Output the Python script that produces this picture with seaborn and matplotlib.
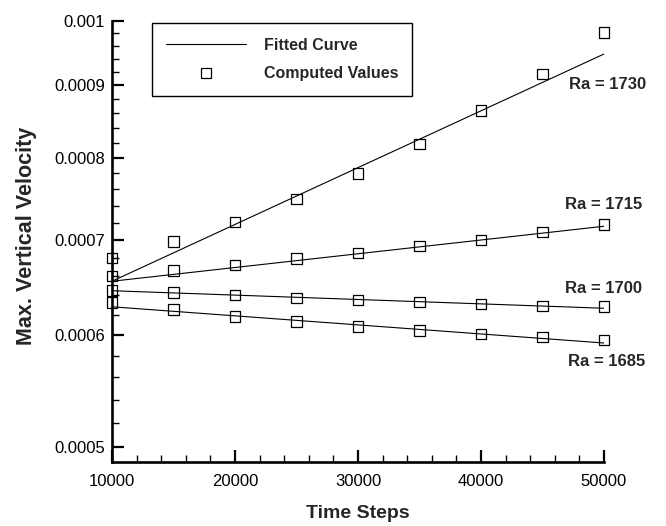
import numpy as np
import pandas as pd
import matplotlib
matplotlib.use("Agg")
import matplotlib.pyplot as plt
from matplotlib.lines import Line2D
from matplotlib.ticker import FixedLocator, FixedFormatter, NullFormatter
import seaborn as sns

# ---------------- data ----------------
time_steps = [10000, 15000, 20000, 25000, 30000, 35000, 40000, 45000, 50000]
ra_values = [1730, 1715, 1700, 1685]

computed_1730 = [0.000680, 0.000698, 0.000721, 0.000748, 0.000780, 0.000818, 0.000864, 0.000917, 0.000981]
computed_1715 = [0.000660, 0.000666, 0.000672, 0.000679, 0.0006855, 0.000693, 0.000700, 0.000709, 0.000718]
computed_1700 = [0.000645, 0.000643, 0.000640, 0.000637, 0.000635, 0.000633, 0.000631, 0.000629, 0.000628]
computed_1685 = [0.0006325, 0.000625, 0.000618, 0.000613, 0.000608, 0.000604, 0.000601, 0.000598, 0.000595]

fit_steps = [10000, 50000]
fit_1730 = [0.0006546, 0.000947]
fit_1715 = [0.0006546, 0.0007158]
fit_1700 = [0.0006446, 0.0006265]
fit_1685 = [0.000628, 0.0005921]

x_ticks = [10000, 20000, 30000, 40000, 50000]
x_tick_labels = ["10000", "20000", "30000", "40000", "50000"]
y_ticks = [0.0005, 0.0006, 0.0007, 0.0008, 0.0009, 0.001]
y_tick_labels = ["0.0005", "0.0006", "0.0007", "0.0008", "0.0009", "0.001"]

label_texts = ["Ra = 1730", "Ra = 1715", "Ra = 1700", "Ra = 1685"]
label_x = [47150, 46830, 46830, 47070]
label_y = [0.0009006, 0.0007413, 0.0006467, 0.0005743]

# ---------------- style ----------------
sns.set_style("ticks")
plt.rcParams["font.family"] = ["Liberation Sans", "DejaVu Sans"]

fig = plt.figure(figsize=(6.66, 5.26), dpi=100)
ax = fig.add_axes([112 / 666, 1 - 462 / 526, 492 / 666, 441.5 / 526])
ax.set_yscale("log")

computed = [computed_1730, computed_1715, computed_1700, computed_1685]
fits = [fit_1730, fit_1715, fit_1700, fit_1685]

fit_df = pd.concat([
    pd.DataFrame({"t": fit_steps, "v": f, "Ra": ra}) for f, ra in zip(fits, ra_values)
])
comp_df = pd.concat([
    pd.DataFrame({"t": time_steps, "v": c, "Ra": ra}) for c, ra in zip(computed, ra_values)
])

for ra in ra_values:
    sub = fit_df[fit_df["Ra"] == ra]
    sns.lineplot(data=sub, x="t", y="v", color="black", linewidth=0.8, ax=ax,
                 estimator=None, sort=False)

sns.scatterplot(data=comp_df, x="t", y="v", marker="s", s=58,
                facecolor="none", edgecolor="black", linewidth=0.9, ax=ax,
                clip_on=False, zorder=3)

ax.set_xlim(10000, 50000)
ax.set_ylim(0.000488, 0.001)

ax.xaxis.set_major_locator(FixedLocator(x_ticks))
ax.xaxis.set_major_formatter(FixedFormatter(x_tick_labels))
ax.xaxis.set_minor_locator(FixedLocator([t for t in range(10000, 50001, 2000) if t % 10000 != 0]))

ax.yaxis.set_major_locator(FixedLocator(y_ticks))
ax.yaxis.set_major_formatter(FixedFormatter(y_tick_labels))
minor_y = [round(v * 1e5) / 1e5 for v in np.arange(0.00052, 0.00099, 0.00002)]
minor_y = [v for v in minor_y if all(abs(v - m) > 1e-9 for m in y_ticks)]
ax.yaxis.set_minor_locator(FixedLocator(minor_y))
ax.yaxis.set_minor_formatter(NullFormatter())

for s in ["top", "right"]:
    ax.spines[s].set_visible(False)
for s in ["left", "bottom"]:
    ax.spines[s].set_linewidth(1.9)
    ax.spines[s].set_color("black")

ax.tick_params(axis="both", which="major", direction="in", length=8.5, width=1.6,
               labelsize=12, colors="black")
ax.tick_params(axis="both", which="minor", direction="in", length=5, width=1.0, colors="black")
ax.tick_params(axis="x", which="major", pad=9)
ax.tick_params(axis="y", which="major", pad=5)

ax.set_xlabel("")
ax.set_ylabel("")
fig.text(358 / 666, 1 - 514 / 526, "Time Steps", ha="center", va="center",
         fontsize=14, fontweight="bold")
fig.text(27 / 666, 1 - 236 / 526, "Max. Vertical Velocity", ha="center", va="center",
         rotation=90, fontsize=15.5, fontweight="bold")

for txt, lx, ly in zip(label_texts, label_x, label_y):
    ax.text(lx, ly, txt, ha="left", va="center", fontsize=12, fontweight="bold")

handles = [
    Line2D([], [], color="black", linewidth=0.8),
    Line2D([], [], color="black", linestyle="none", marker="s", markersize=7.6,
           markerfacecolor="none", markeredgewidth=0.9),
]
leg = ax.legend(handles, ["Fitted Curve", "Computed Values"], loc="upper left",
                bbox_to_anchor=((151.7 - 112) / 492, (462 - 23.3) / 441.5),
                borderaxespad=0, frameon=True, fancybox=False, framealpha=1,
                edgecolor="black", handlelength=5.0, handletextpad=1.1,
                borderpad=0.9, labelspacing=0.85,
                prop={"size": 11.5, "weight": "bold"})
leg.get_frame().set_linewidth(1.0)

fig.savefig("out.png", dpi=100)
